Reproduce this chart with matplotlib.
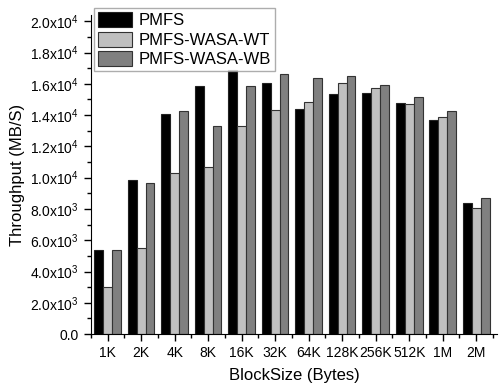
import numpy as np
import matplotlib
matplotlib.use("Agg")
import matplotlib.pyplot as plt
from matplotlib.ticker import MultipleLocator, FuncFormatter

plt.rcParams['font.family'] = ['Liberation Sans', 'DejaVu Sans']
plt.rcParams['mathtext.fontset'] = 'custom'
plt.rcParams['mathtext.rm'] = 'Liberation Sans'
plt.rcParams['mathtext.it'] = 'Liberation Sans:italic'
plt.rcParams['mathtext.bf'] = 'Liberation Sans:bold'

# === Data ===
block_sizes = ['1K', '2K', '4K', '8K', '16K', '32K', '64K', '128K', '256K', '512K', '1M', '2M']
pmfs = [5370, 9840, 14100, 15870, 16900, 16020, 14360, 15360, 15420, 14800, 13690, 8370]
pmfs_wt = [2980, 5510, 10310, 10690, 13330, 14330, 14860, 16060, 15760, 14720, 13890, 8030]
pmfs_wb = [5370, 9670, 14230, 13310, 15890, 16610, 16380, 16530, 15910, 15140, 14250, 8710]

# === Figure ===
fig = plt.figure(figsize=(5.02, 3.84), dpi=100)
ax = fig.add_axes([0.181, 0.130, 0.809, 0.831])

x = np.arange(len(block_sizes))
w = 0.265
ax.bar(x - w, pmfs, w, color='black', edgecolor='#222222', linewidth=0.8, label='PMFS', zorder=1)
ax.bar(x, pmfs_wt, w, color='#c0c0c0', edgecolor='#333333', linewidth=0.8, label='PMFS-WASA-WT', zorder=1)
ax.bar(x + w, pmfs_wb, w, color='#808080', edgecolor='#333333', linewidth=0.8, label='PMFS-WASA-WB', zorder=1)

ax.set_xlim(-0.5, 11.62)
ax.set_ylim(0, 20400)

ax.spines['top'].set_visible(False)
ax.spines['right'].set_visible(False)

ax.set_xticks(x)
ax.set_xticklabels(block_sizes)
ax.set_xticks(np.arange(-0.5, 12, 1), minor=True)
ax.yaxis.set_major_locator(MultipleLocator(2000))
ax.yaxis.set_minor_locator(MultipleLocator(1000))


def fmt(v, pos):
    if v <= 0:
        return '0.0'
    e = int(np.floor(np.log10(v)))
    m = v / 10 ** e
    return r'%.1fx10$^{%d}$' % (m, e)


ax.yaxis.set_major_formatter(FuncFormatter(fmt))
ax.tick_params(axis='both', which='major', direction='out', length=5, labelsize=10, width=1)
ax.tick_params(axis='both', which='minor', direction='out', length=3, width=1)

ax.set_xlabel('BlockSize (Bytes)', fontsize=12, labelpad=6)
ax.set_ylabel('Throughput (MB/S)', fontsize=12, labelpad=4)

leg = ax.legend(loc='upper left', bbox_to_anchor=(0.007, 1.022), fontsize=12,
                frameon=True, fancybox=False, edgecolor='#999999',
                handlelength=2.05, handleheight=1.0, borderpad=0.25,
                labelspacing=0.2, handletextpad=0.4, borderaxespad=0)
leg.get_frame().set_linewidth(1)
leg.set_zorder(5)

plt.savefig('out.png', dpi=100)
